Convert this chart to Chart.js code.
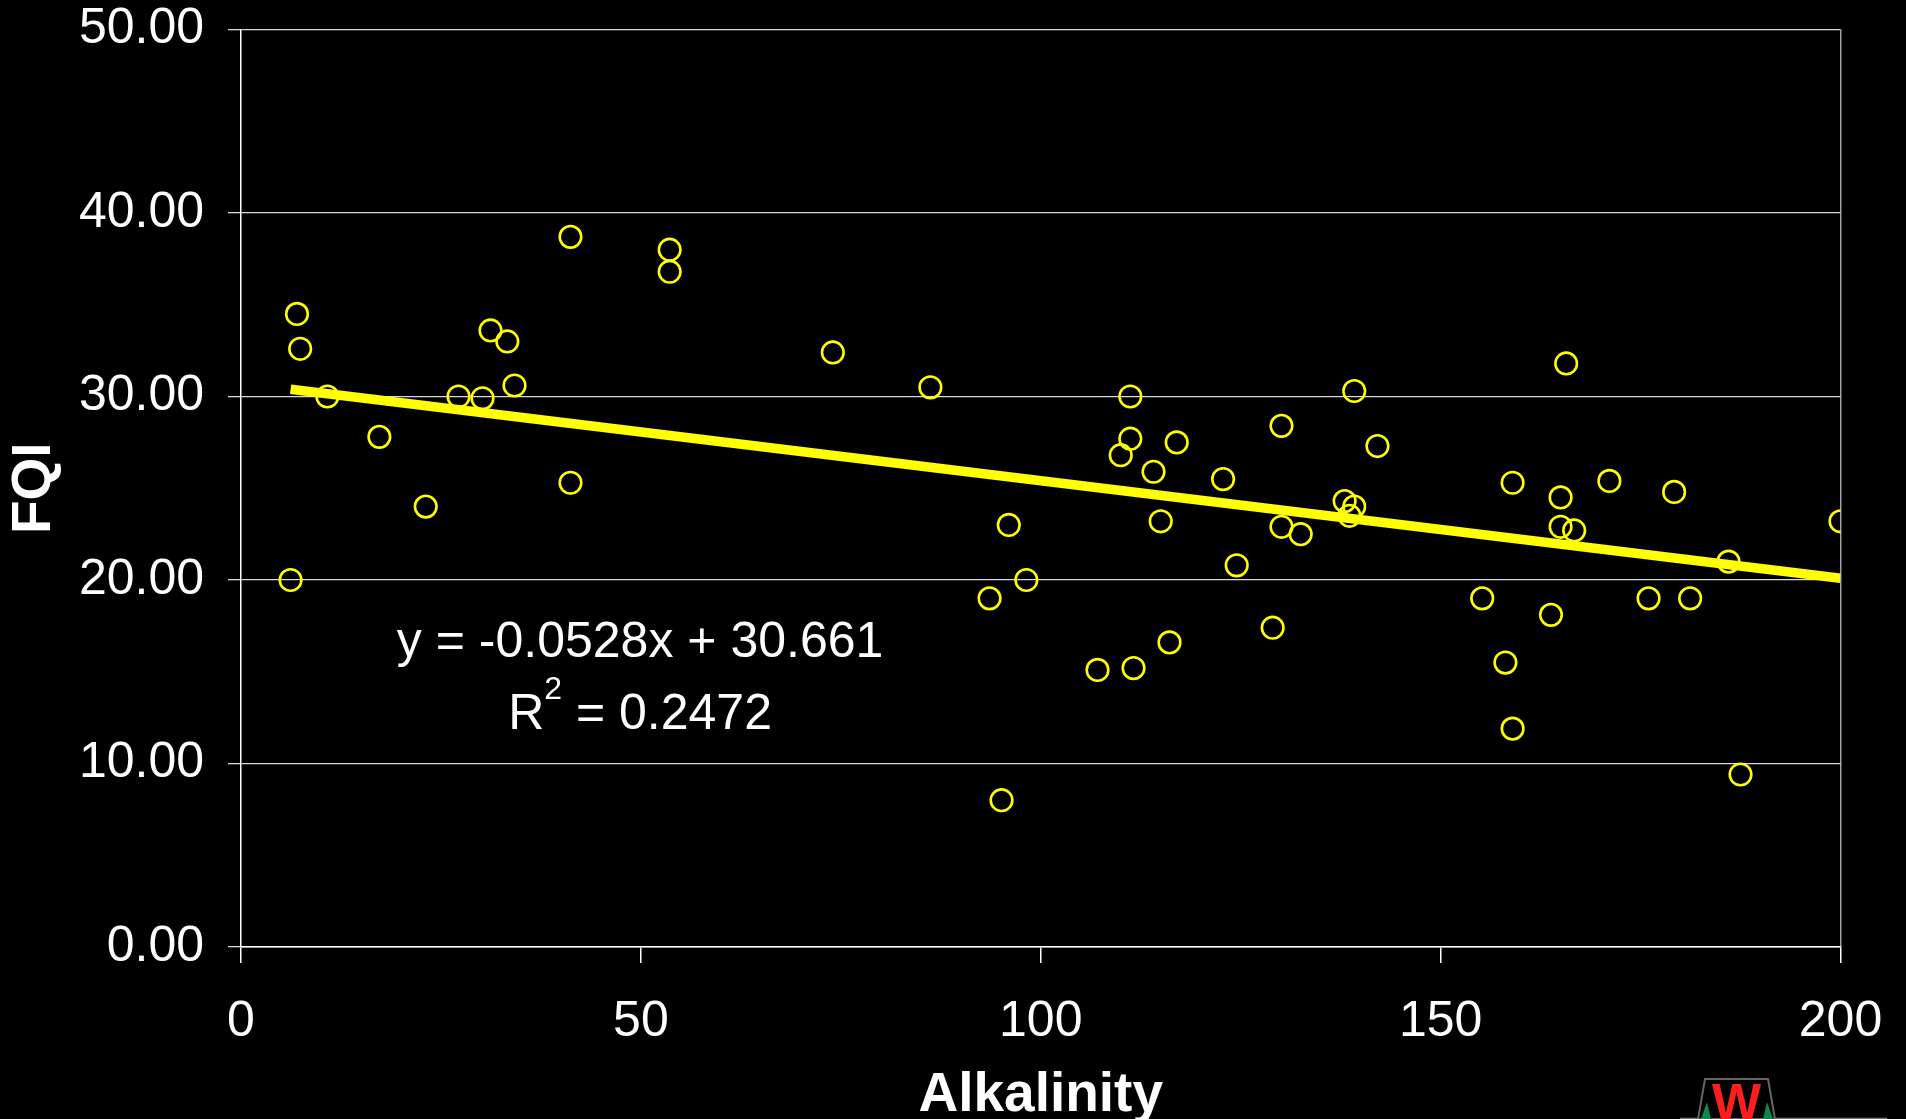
<!DOCTYPE html>
<html>
<head>
<meta charset="utf-8">
<title>FQI vs Alkalinity</title>
<script src="https://cdn.jsdelivr.net/npm/chart.js@4.4.1/dist/chart.umd.min.js"></script>
<style>
  html, body { margin: 0; padding: 0; background: #000; overflow: hidden; }
  #wrap { position: relative; width: 1906px; height: 1119px; }
  #logo { position: absolute; left: 1670px; top: 1070px; }
</style>
</head>
<body>
<div id="wrap">
  <canvas id="chart"></canvas>
  <svg id="logo" width="236" height="49" viewBox="0 0 236 49">
    <line x1="10" y1="48.5" x2="217" y2="48.5" stroke="#777" stroke-width="1.5"/>
    <polygon points="35,9 98,9 105,49 28,49" fill="#000" stroke="#666" stroke-width="2"/>
    <polygon points="31,49 41,49 37,32" fill="#0a8a4a"/>
    <polygon points="93,49 103,49 97,32" fill="#0a8a4a"/>
    <text x="66.5" y="50" text-anchor="middle" font-family="Liberation Sans, Arial, sans-serif" font-weight="bold" font-size="52" fill="#ff1e1e">W</text>
  </svg>
</div>
<script>
// sample points
const alkalinity = [6.2, 7.0, 7.4, 10.8, 17.3, 23.1, 27.2, 30.2, 31.2, 33.3,
  34.2, 41.2, 41.2, 53.6, 53.6, 74.0, 86.2, 93.6, 96.0, 95.1,
  98.2, 107.1, 110.0, 111.2, 111.2, 111.6, 114.1, 115.0, 116.1, 117.0,
  122.8, 124.5, 129.0, 130.1, 130.1, 132.5, 138.0, 138.6, 139.2, 139.2,
  142.1, 155.2, 158.1, 159.0, 159.0, 163.8, 165.0, 165.0, 165.7, 166.7,
  171.1, 176.0, 179.2, 181.2, 186.0, 187.5, 200.0]
const fqi = [20.0, 34.5, 32.6, 30.0, 27.8, 24.0, 30.0, 29.9, 33.6, 33.0,
  30.6, 38.7, 25.3, 38.0, 36.8, 32.4, 30.5, 19.0, 23.0, 8.0,
  20.0, 15.1, 26.8, 30.0, 27.7, 15.2, 25.9, 23.2, 16.6, 27.5,
  25.5, 20.8, 17.4, 28.4, 22.9, 22.5, 24.3, 23.5, 24.0, 30.3,
  27.3, 19.0, 15.5, 25.3, 11.9, 18.1, 24.5, 22.9, 31.8, 22.7,
  25.4, 19.0, 24.8, 19.0, 21.0, 9.4, 23.2]

// trend line ends, as drawn
const trendX = [6.2, 200]
const trendY = [30.4, 20.1]

const xTicks = [0, 50, 100, 150, 200]
const yTicks = [0, 10, 20, 30, 40, 50]

const equationText = "y = -0.0528x + 30.661"
const r2Value = "0.2472"

const yellow = "#ffff00"
const fontFamily = "'Liberation Sans', Arial, sans-serif"

const points = alkalinity.map((a, i) => ({ x: a, y: fqi[i] }))
const trend = trendX.map((a, i) => ({ x: a, y: trendY[i] }))

// draws the regression equation under the line, like the spreadsheet label
const equationLabel = {
  id: "equationLabel",
  afterDatasetsDraw(chart) {
    const ctx = chart.ctx
    const xs = chart.scales.x
    const ys = chart.scales.y
    const cx = xs.getPixelForValue(49.9)
    const y1 = ys.getPixelForValue(15.82)
    const y2 = ys.getPixelForValue(11.9)
    ctx.save()
    ctx.fillStyle = "#ffffff"
    ctx.textBaseline = "alphabetic"
    ctx.font = "50px " + fontFamily
    ctx.textAlign = "center"
    ctx.fillText(equationText, cx, y1)

    // R² with a raised small 2
    ctx.textAlign = "left"
    const big = "50px " + fontFamily
    const small = "32px " + fontFamily
    ctx.font = big
    const wR = ctx.measureText("R").width
    const rest = " = " + r2Value
    const wRest = ctx.measureText(rest).width
    ctx.font = small
    const w2 = ctx.measureText("2").width
    let x = cx - (wR + w2 + wRest) / 2
    ctx.font = big
    ctx.fillText("R", x, y2)
    x += wR
    ctx.font = small
    ctx.fillText("2", x, y2 - 30)
    x += w2
    ctx.font = big
    ctx.fillText(rest, x, y2)
    ctx.restore()
  }
}

const chart = new Chart("chart", {
  type: "scatter",
  data: {
    datasets: [
      {
        type: "line",
        label: "Trend",
        data: trend,
        borderColor: yellow,
        borderWidth: 9.5,
        pointRadius: 0,
        fill: false,
        tension: 0
      },
      {
        label: "FQI",
        data: points,
        pointStyle: "circle",
        pointRadius: 10.8,
        pointHoverRadius: 10.8,
        borderWidth: 2.6,
        borderColor: yellow,
        backgroundColor: "rgba(0,0,0,0)"
      }
    ]
  },
  options: {
    responsive: true,
    maintainAspectRatio: false,
    animation: false,
    events: [],
    layout: { padding: { top: 29.5, right: 65.5, left: 0, bottom: 0 } },
    plugins: {
      legend: { display: false },
      tooltip: { enabled: false }
    },
    scales: {
      x: {
        type: "linear",
        min: 0,
        max: 200,
        afterBuildTicks(scale) {
          scale.ticks = xTicks.map(v => ({ value: v }))
        },
        afterFit(scale) {
          scale.height = 172
          scale.paddingLeft = 0
          scale.paddingRight = 0
        },
        border: { display: true, color: "#ffffff", width: 1.5 },
        grid: {
          drawOnChartArea: true,
          color: c => (c.tick && c.tick.value === 200 ? "#a0a0a0" : "rgba(0,0,0,0)"),
          lineWidth: 1.5,
          tickColor: "#ffffff",
          tickLength: 16,
          tickWidth: 1.5
        },
        ticks: {
          color: "#ffffff",
          padding: 29,
          maxRotation: 0,
          autoSkip: false,
          font: { family: fontFamily, size: 50 }
        },
        title: {
          display: true,
          text: "Alkalinity",
          color: "#ffffff",
          padding: { top: 0, bottom: 1 },
          font: { family: fontFamily, size: 55, weight: "bold", lineHeight: 0.82 }
        }
      },
      y: {
        type: "linear",
        min: 0,
        max: 50,
        afterBuildTicks(scale) {
          scale.ticks = yTicks.map(v => ({ value: v }))
        },
        afterFit(scale) {
          scale.width = 241
          scale.paddingTop = 0
          scale.paddingBottom = 0
        },
        border: { display: true, color: "#ffffff", width: 1.5 },
        grid: {
          color: "#d8d8d8",
          lineWidth: 1.3,
          tickColor: "#d8d8d8",
          tickLength: 13
        },
        ticks: {
          color: "#ffffff",
          padding: 24,
          autoSkip: false,
          font: { family: fontFamily, size: 50 },
          callback: v => Number(v).toFixed(2)
        },
        title: {
          display: true,
          text: "FQI",
          color: "#ffffff",
          padding: { top: 7, bottom: 0 },
          font: { family: fontFamily, size: 55, weight: "bold", lineHeight: 1 }
        }
      }
    }
  },
  plugins: [equationLabel]
})
</script>
</body>
</html>
